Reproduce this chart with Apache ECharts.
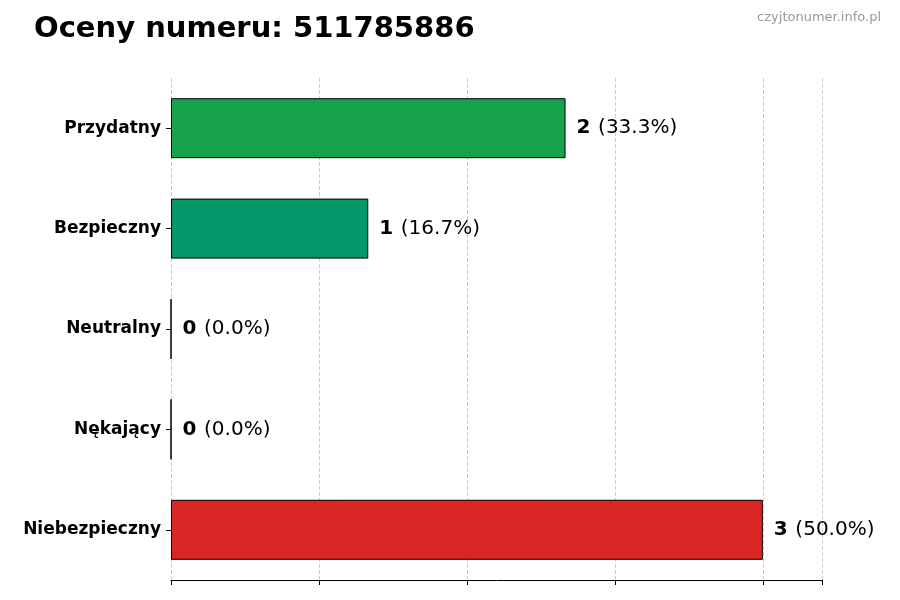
<!DOCTYPE html>
<html>
<head>
<meta charset="utf-8">
<script src="https://cdn.jsdelivr.net/npm/echarts@6/dist/echarts.min.js"></script>
</head>
<body style="margin:0">
<div id="main" style="width:900px;height:600px;"></div>
<script>
var categories = ['Niebezpieczny', 'Nękający', 'Neutralny', 'Bezpieczny', 'Przydatny'];
var counts = [3, 0, 0, 1, 2];
var percents = ['50.0%', '0.0%', '0.0%', '16.7%', '33.3%'];
var colors = ['#dc2626', '#6b7280', '#6b7280', '#059669', '#16a34a'];

var chart = echarts.init(document.getElementById('main'));
var font = 'DejaVu Sans';
chart.setOption({
    animation: false,
    textStyle: {fontFamily: font},
    title: [
        {text: 'Oceny numeru: 511785886', left: 29, top: 10,
         textStyle: {fontSize: 29, fontWeight: 'bold', color: '#000', fontFamily: font}},
        {text: 'czyjtonumer.info.pl', right: 14, top: 6,
         textStyle: {fontSize: 13, fontWeight: 'normal', color: '#999', fontFamily: font}}
    ],
    grid: {left: 171, right: 78, top: 78, bottom: 20},
    xAxis: {
        type: 'value', min: 0, max: 3.3, interval: 0.75,
        axisLabel: {show: false},
        axisLine: {show: true, lineStyle: {color: '#000'}},
        axisTick: {show: true, length: 5, lineStyle: {color: '#000'}},
        splitLine: {show: true, lineStyle: {type: 'dashed', color: '#ccc'}}
    },
    yAxis: {
        type: 'category', data: categories,
        axisLine: {show: false},
        axisTick: {show: true, alignWithLabel: true, length: 5, lineStyle: {color: '#000'}},
        axisLabel: {fontSize: 17, fontWeight: 'bold', color: '#000', margin: 10}
    },
    series: [{
        type: 'bar', barWidth: 60,
        data: counts.map(function (v, i) {
            return {value: v, itemStyle: {color: colors[i], borderColor: '#000', borderWidth: 1}};
        }),
        label: {
            show: true, position: 'right', distance: 11,
            formatter: function (p) { return '{b|' + p.value + '}  {n|(' + percents[p.dataIndex] + ')}'; },
            rich: {
                b: {fontSize: 20, fontWeight: 'bold', color: '#000', fontFamily: font},
                n: {fontSize: 20, color: '#000', fontFamily: font}
            }
        }
    }]
});
</script>
</body>
</html>
